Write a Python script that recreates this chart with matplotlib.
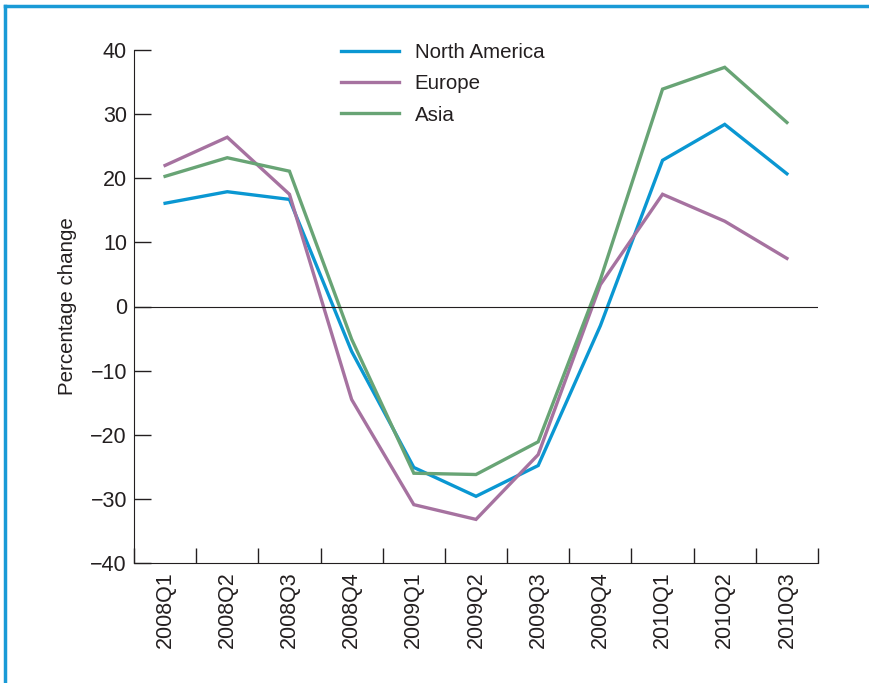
import matplotlib
matplotlib.use("Agg")
import matplotlib.pyplot as plt
from matplotlib.lines import Line2D

quarters = ["2008Q1", "2008Q2", "2008Q3", "2008Q4", "2009Q1", "2009Q2",
            "2009Q3", "2009Q4", "2010Q1", "2010Q2", "2010Q3"]
north_america = [16.1, 17.9, 16.7, -7.0, -25.1, -29.6, -24.8, -3.0, 22.8, 28.4, 20.7]
europe = [22.0, 26.4, 17.5, -14.5, -30.9, -33.2, -23.1, 3.4, 17.5, 13.3, 7.5]
asia = [20.3, 23.2, 21.1, -5.1, -26.0, -26.2, -21.1, 4.2, 33.9, 37.3, 28.7]
yticks = [-40, -30, -20, -10, 0, 10, 20, 30, 40]
ytick_labels = ["\u221240", "\u221230", "\u221220", "\u221210", "0", "10", "20", "30", "40"]

plt.rcParams['font.family'] = ['Liberation Sans', 'DejaVu Sans']
text_color = "#231f20"

fig = plt.figure(figsize=(8.69, 6.83), dpi=100)
ax = fig.add_axes([134/869, 1-563/683, (818-134)/869, (563-50)/683])

x = list(range(len(quarters)))
ax.plot(x, north_america, color="#0a97d2", lw=2.4, label="North America", solid_joinstyle="miter")
ax.plot(x, europe, color="#a672a0", lw=2.4, label="Europe", solid_joinstyle="miter")
ax.plot(x, asia, color="#68a475", lw=2.4, label="Asia", solid_joinstyle="miter")
ax.axhline(0, color=text_color, lw=0.8)

ax.set_xlim(-0.5, len(quarters) - 0.5)
ax.set_ylim(-40, 40)
ax.set_yticks(yticks)
ax.set_yticklabels(ytick_labels)
ax.set_xticks([i - 0.5 for i in range(len(quarters) + 1)], minor=False)
ax.set_xticklabels([])
ax.set_xticks(x, minor=True)
ax.set_xticklabels(quarters, minor=True, rotation=90)
ax.tick_params(axis='x', which='major', direction='in', length=11, width=1, color=text_color)
ax.tick_params(axis='x', which='minor', length=0, pad=6, labelsize=15.5, labelcolor=text_color)
ax.tick_params(axis='y', direction='in', length=12, width=1, color=text_color,
               labelsize=15.5, labelcolor=text_color, pad=5)
for lbl in ax.get_yticklabels():
    lbl.set_horizontalalignment('right')
ax.spines['top'].set_visible(False)
ax.spines['right'].set_visible(False)
ax.spines['left'].set_color(text_color)
ax.spines['bottom'].set_color(text_color)
ax.set_ylabel("Percentage change", fontsize=14.8, color=text_color, labelpad=10)

leg = ax.legend(loc='upper left', bbox_to_anchor=(0.275, 1.05), frameon=False,
                fontsize=14.8, handlelength=2.85, handletextpad=0.75, labelspacing=0.6,
                labelcolor=text_color)

fig.add_artist(Line2D([5/869, 5/869], [0, 1-6/683], transform=fig.transFigure,
                      color="#1a9ad6", lw=2.5))
fig.add_artist(Line2D([5/869, 1], [1-6/683, 1-6/683], transform=fig.transFigure,
                      color="#1a9ad6", lw=2.5))

fig.savefig("out.png", dpi=100)
